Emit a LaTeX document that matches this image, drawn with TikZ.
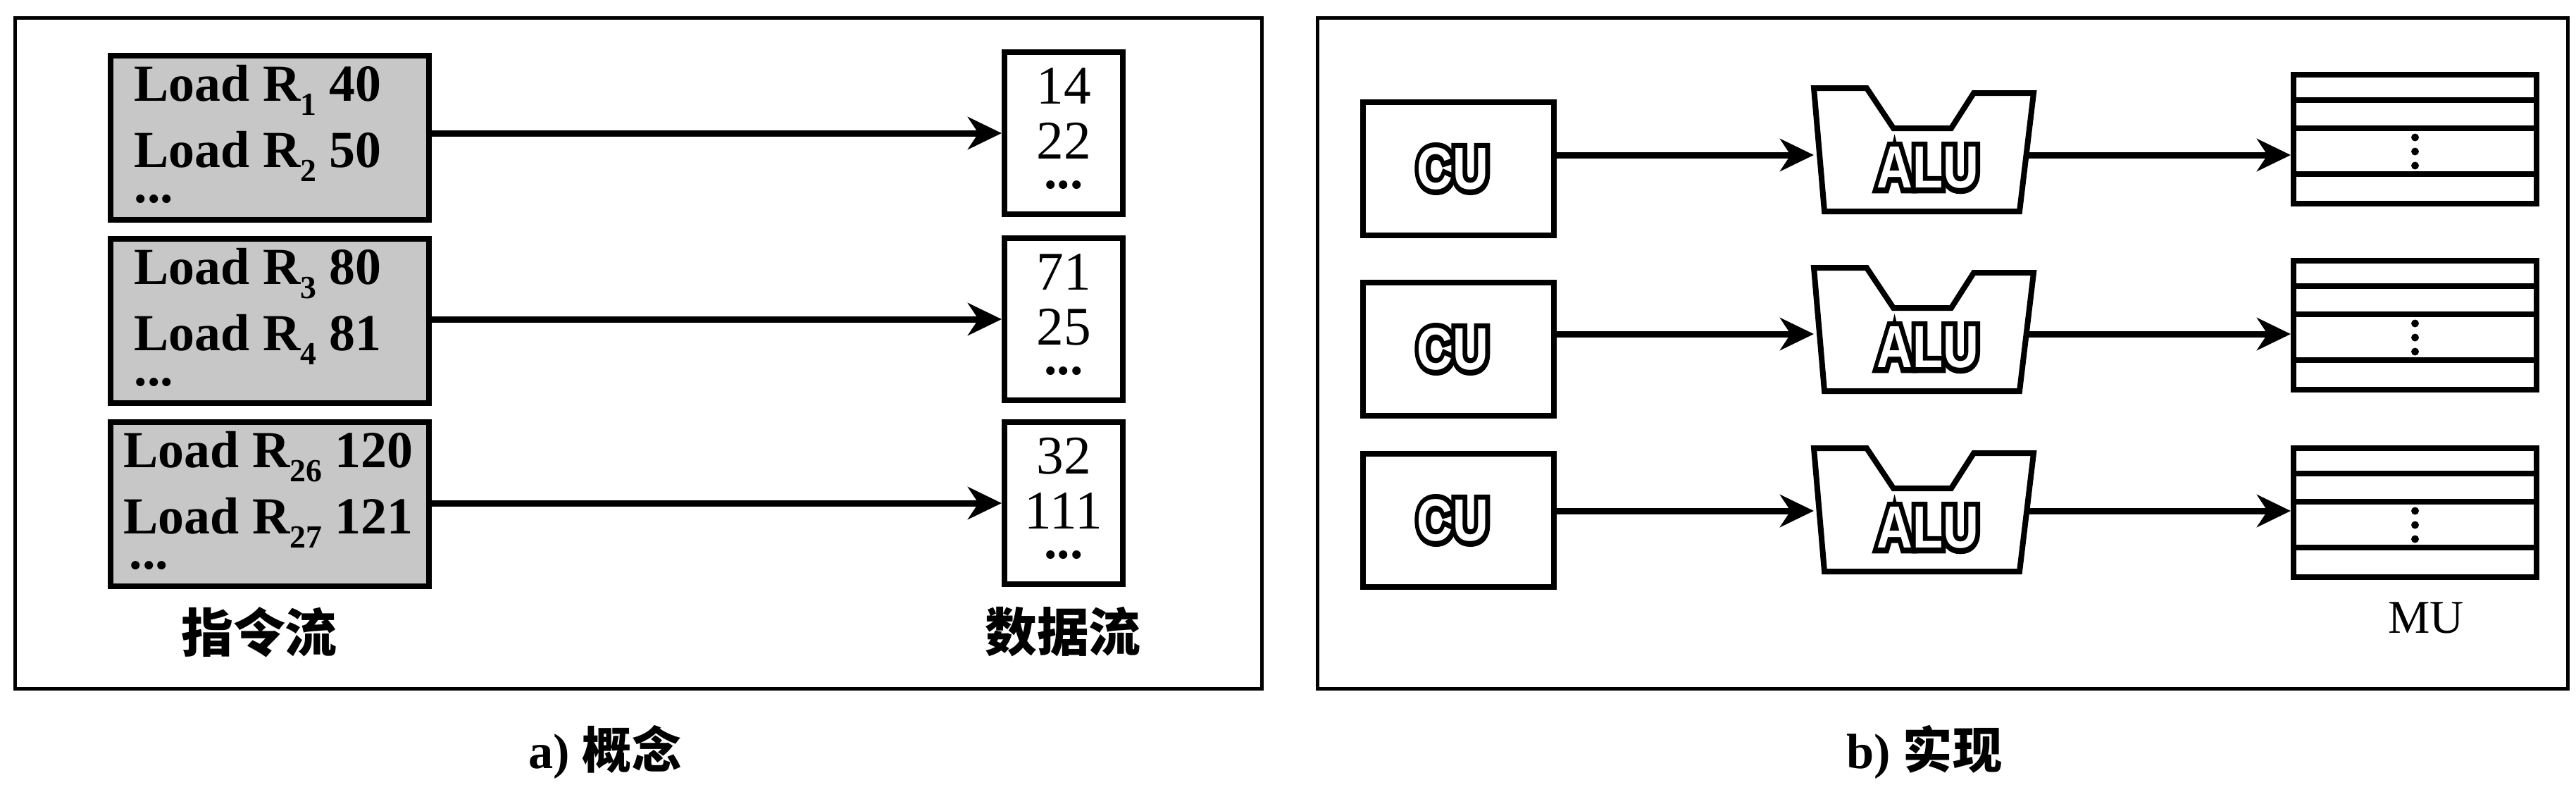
\documentclass[tikz,border=0pt]{standalone}
\usepackage{fontspec}
\setmainfont{Liberation Serif}
\newfontfamily\hv{Liberation Sans}
\newfontfamily\hvfat{Liberation Sans}[BoldFeatures={FakeBold=18}]
\newfontfamily\cjk{Noto Sans CJK SC}
\usepackage{graphicx}
\usetikzlibrary{arrows.meta,calc}
\newcommand\sbx[1]{\raisebox{-0.2cm}{\fontsize{13pt}{13pt}\selectfont #1}}
\newcommand\outlined[1]{\scalebox{1}[1.2]{\makebox[0pt]{\hvfat\bfseries #1}\makebox[0pt]{\color{white}\hv\bfseries #1}}}
\tikzset{
 pframe/.style={draw,line width=0.05cm},
 ibox/.style={draw,line width=0.08cm,fill=black!22,minimum width=4.52cm,minimum height=2.33cm,anchor=north west,inner sep=0},
 dbox/.style={draw,line width=0.08cm,fill=white,minimum width=1.68cm,minimum height=2.30cm,anchor=north west,inner sep=0},
 cubox/.style={draw,line width=0.08cm,minimum width=2.71cm,minimum height=1.89cm,anchor=north west,inner sep=0},
 alubox/.style={minimum width=3.12cm,minimum height=1.75cm,anchor=north west,inner sep=0},
 aluline/.style={line width=0.08cm,line join=miter},
 mubox/.style={draw,line width=0.08cm,minimum width=3.45cm,minimum height=1.83cm,anchor=north west,inner sep=0},
 muline/.style={line width=0.08cm},
 arr/.style={line width=0.09cm,-{Stealth[length=0.48cm,width=0.46cm,inset=0.15cm]}},
 ltxt/.style={anchor=base west,inner sep=0,font=\fontsize{21pt}{21pt}\selectfont\bfseries},
 dtxt/.style={anchor=base,inner sep=0,font=\fontsize{22pt}{22pt}\selectfont},
 dots/.style={anchor=base,inner sep=0,font=\fontsize{21pt}{21pt}\selectfont\bfseries},
 lab/.style={inner sep=0,font=\fontsize{21pt}{21pt}\selectfont\cjk\bfseries},
 captxt/.style={inner sep=0,font=\fontsize{20pt}{20pt}\selectfont\bfseries},
 outl/.style={inner sep=0,font=\fontsize{20pt}{20pt}\selectfont},
 mulab/.style={inner sep=0,font=\fontsize{19pt}{19pt}\selectfont},
 mudot/.style={fill=black,circle,inner sep=0,minimum size=0.11cm},
}
\begin{document}
\begin{tikzpicture}
\useasboundingbox[fill=white] (0,0) rectangle (36.57,-11.13);

% ---------------- panel a ----------------
\node[pframe,anchor=north west,minimum width=17.70cm,minimum height=9.52cm,inner sep=0] (fa) at (0.19,-0.23) {};

\node[ibox] (i1) at (1.53,-0.75) {};
\node[ibox] (i2) at (1.53,-3.35) {};
\node[ibox] (i3) at (1.53,-5.95) {};

\node[ltxt] (t11) at ($(i1.north west)+(0.37,-0.68)$) {Load R\sbx{1} 40};
\node[ltxt] (t12) at ($(i1.north west)+(0.37,-1.62)$) {Load R\sbx{2} 50};
\node[ltxt] (t13) at ($(i1.north west)+(0.37,-2.12)$) {...};
\node[ltxt] (t21) at ($(i2.north west)+(0.37,-0.68)$) {Load R\sbx{3} 80};
\node[ltxt] (t22) at ($(i2.north west)+(0.37,-1.62)$) {Load R\sbx{4} 81};
\node[ltxt] (t23) at ($(i2.north west)+(0.37,-2.12)$) {...};
\node[ltxt] (t31) at ($(i3.north west)+(0.22,-0.68)$) {Load R\sbx{26} 120};
\node[ltxt] (t32) at ($(i3.north west)+(0.22,-1.62)$) {Load R\sbx{27} 121};
\node[ltxt] (t33) at ($(i3.north west)+(0.30,-2.12)$) {...};

\node[dbox] (d1) at (14.22,-0.70) {};
\node[dbox] (d2) at (14.22,-3.34) {};
\node[dbox] (d3) at (14.22,-5.95) {};

\node[dtxt] (n11) at ($(d1.north)+(0,-0.77)$) {14};
\node[dtxt] (n12) at ($(d1.north)+(0,-1.55)$) {22};
\node[dots] (n13) at ($(d1.north)+(0,-1.97)$) {...};
\node[dtxt] (n21) at ($(d2.north)+(0,-0.77)$) {71};
\node[dtxt] (n22) at ($(d2.north)+(0,-1.55)$) {25};
\node[dots] (n23) at ($(d2.north)+(0,-1.97)$) {...};
\node[dtxt] (n31) at ($(d3.north)+(0,-0.77)$) {32};
\node[dtxt] (n32) at ($(d3.north)+(0,-1.55)$) {111};
\node[dots] (n33) at ($(d3.north)+(0,-1.97)$) {...};

\draw[arr] (i1.east |- d1.west) -- (d1.west);
\draw[arr] (i2.east |- d2.west) -- (d2.west);
\draw[arr] (i3.east |- d3.west) -- (d3.west);

\node[lab] (la1) at (3.68,-8.97) {指令流};
\node[lab] (la2) at (15.09,-8.97) {数据流};
\node[captxt] (capa) at (8.59,-10.67) {a) {\cjk 概念}};

% ---------------- panel b ----------------
\node[pframe,anchor=north west,minimum width=17.75cm,minimum height=9.52cm,inner sep=0] (fb) at (18.68,-0.23) {};

\coordinate (r1) at (0,-2.20);
\coordinate (r2) at (0,-4.74);
\coordinate (r3) at (0,-7.25);

\node[cubox] (cu1) at (19.31,-1.41) {};
\node[cubox] (cu2) at (19.31,-3.97) {};
\node[cubox] (cu3) at (19.31,-6.40) {};
\foreach \k in {1,2,3}{
  \node[outl] (cut\k) at ($(cu\k.center)+(-0.08,0)$) {\outlined{CU}};
}

\node[alubox] (alu1) at (25.75,-1.25) {};
\node[alubox] (alu2) at (25.75,-3.80) {};
\node[alubox] (alu3) at (25.75,-6.36) {};
\foreach \k in {1,2,3}{
  \draw[aluline] (alu\k.north west) -- ++(0.75,0) -- ++(0.38,-0.57) -- ++(0.82,0)
     -- ++(0.32,0.50) -- ++(0.85,0) -- ++(-0.20,-1.68) -- ++(-2.77,0) -- cycle;
  \node[outl] (alut\k) at ($(alu\k.center)+(0.05,-0.25)$) {\outlined{ALU}};
}

\node[mubox] (mu1) at (32.52,-1.02) {};
\node[mubox] (mu2) at (32.52,-3.66) {};
\node[mubox] (mu3) at (32.52,-6.32) {};
\foreach \k in {1,2,3}{
  \foreach \d in {0.40,0.80,1.45}{
    \draw[muline] ($(mu\k.north west)+(0,-\d)$) -- ($(mu\k.north east)+(0,-\d)$);
  }
  \foreach \d in {0.93,1.13,1.33}{
    \node[mudot] at ($(mu\k.north)+(0,-\d)$) {};
  }
}
\node[mulab] (mul) at (34.44,-8.77) {MU};

\draw[arr] (cu1.east |- r1) -- (alu1.west |- r1);
\draw[arr] (cu2.east |- r2) -- (alu2.west |- r2);
\draw[arr] (cu3.east |- r3) -- (alu3.west |- r3);
\draw[arr] ([xshift=-0.12cm]alu1.east |- r1) -- (mu1.west |- r1);
\draw[arr] ([xshift=-0.12cm]alu2.east |- r2) -- (mu2.west |- r2);
\draw[arr] ([xshift=-0.12cm]alu3.east |- r3) -- (mu3.west |- r3);

\node[captxt] (capb) at (27.32,-10.67) {b) {\cjk 实现}};
\end{tikzpicture}
\end{document}
